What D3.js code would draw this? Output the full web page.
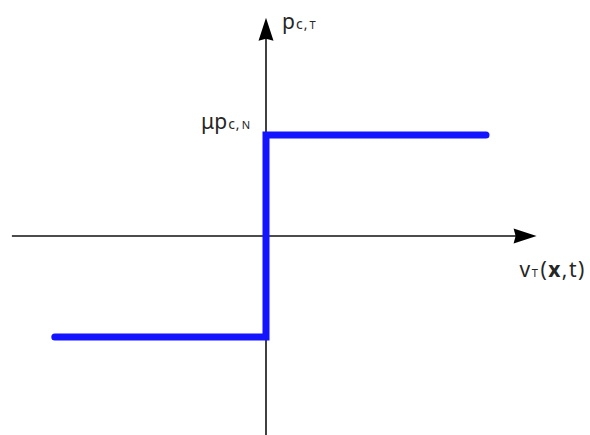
<!DOCTYPE html>
<html lang="en">
<head>
<meta charset="utf-8">
<script src="https://d3js.org/d3.v7.min.js"></script>
<style>
  body { margin: 0; background: #fff; }
  text { font-family: "Noto Sans", "Open Sans", sans-serif; fill: #262626; }
</style>
</head>
<body>
<div id="chart"></div>
<script>
// step function: friction pressure vs tangential velocity
const stepX = [-0.96, 0, 0, 1];
const stepY = [-1, -1, 1, 1];
// extent of the drawn axes (data units)
const axisX = [-1.155, 1.23];
const axisY = [-1.97, 2.16];
// label pieces
const yLabel = ["p", "c,", "T"];
const levelLabel = ["\u03bcp", "c,", "N"];
const xLabel = ["v", "T", "(", "x", ",t)"];

const width = 590, height = 435;

const svg = d3.select("#chart")
  .append("svg")
  .attr("width", width)
  .attr("height", height);

// scales
var x = d3.scaleLinear().domain([0, 1]).range([266, 486]);
var y = d3.scaleLinear().domain([-1, 1]).range([337, 135]);

const data = stepX.map(function(d, i) { return {x: d, y: stepY[i]}; });

// horizontal axis with arrow
svg.append("line")
  .attr("x1", x(axisX[0])).attr("x2", x(axisX[1]) - 18)
  .attr("y1", y(0)).attr("y2", y(0))
  .attr("stroke", "#111").attr("stroke-width", 1.6);
svg.append("path")
  .attr("d", "M" + x(axisX[1]) + "," + y(0) +
             "L" + (x(axisX[1]) - 23) + "," + (y(0) - 7.5) +
             "L" + (x(axisX[1]) - 21) + "," + y(0) +
             "L" + (x(axisX[1]) - 23) + "," + (y(0) + 7.5) + "Z")
  .attr("fill", "#000");

// vertical axis with arrow
svg.append("line")
  .attr("x1", x(0)).attr("x2", x(0))
  .attr("y1", y(axisY[0])).attr("y2", y(axisY[1]) + 18)
  .attr("stroke", "#111").attr("stroke-width", 1.6);
svg.append("path")
  .attr("d", "M" + x(0) + "," + y(axisY[1]) +
             "L" + (x(0) - 7.5) + "," + (y(axisY[1]) + 23) +
             "L" + x(0) + "," + (y(axisY[1]) + 21) +
             "L" + (x(0) + 7.5) + "," + (y(axisY[1]) + 23) + "Z")
  .attr("fill", "#000");

// the step line
svg.append("path")
  .datum(data)
  .attr("d", d3.line()
    .x(function(d) { return x(d.x); })
    .y(function(d) { return y(d.y); }))
  .attr("fill", "none")
  .attr("stroke", "#1414ff")
  .attr("stroke-width", 7)
  .attr("stroke-linecap", "round")
  .attr("stroke-linejoin", "miter");

// y label  p c,T
var t1 = svg.append("text")
  .attr("x", x(0) + 16).attr("y", y(axisY[1]) + 11)
  .style("font-size", "21px");
t1.append("tspan").text(yLabel[0]);
t1.append("tspan").style("font-size", "14px").attr("dx", 1).style("letter-spacing", "1px").text(yLabel[1]);
t1.append("tspan").style("font-size", "11px").attr("dx", 1).text(yLabel[2]);

// level label  μp c,N
var t2 = svg.append("text")
  .attr("x", x(0) - 16).attr("y", y(1) - 6)
  .attr("text-anchor", "end")
  .style("font-size", "21px");
t2.append("tspan").text(levelLabel[0]);
t2.append("tspan").style("font-size", "14px").attr("dx", 1).style("letter-spacing", "1px").text(levelLabel[1]);
t2.append("tspan").style("font-size", "11px").attr("dx", 1).text(levelLabel[2]);

// x label  v T (x,t)
var t3 = svg.append("text")
  .attr("x", x(axisX[1]) - 17).attr("y", y(0) + 41)
  .style("font-size", "21px")
  .style("letter-spacing", "1.5px");
t3.append("tspan").text(xLabel[0]);
t3.append("tspan").style("font-size", "11px").text(xLabel[1]);
t3.append("tspan").attr("dx", 1).text(xLabel[2]);
t3.append("tspan").style("font-weight", "bold").text(xLabel[3]);
t3.append("tspan").text(xLabel[4]);
</script>
</body>
</html>
